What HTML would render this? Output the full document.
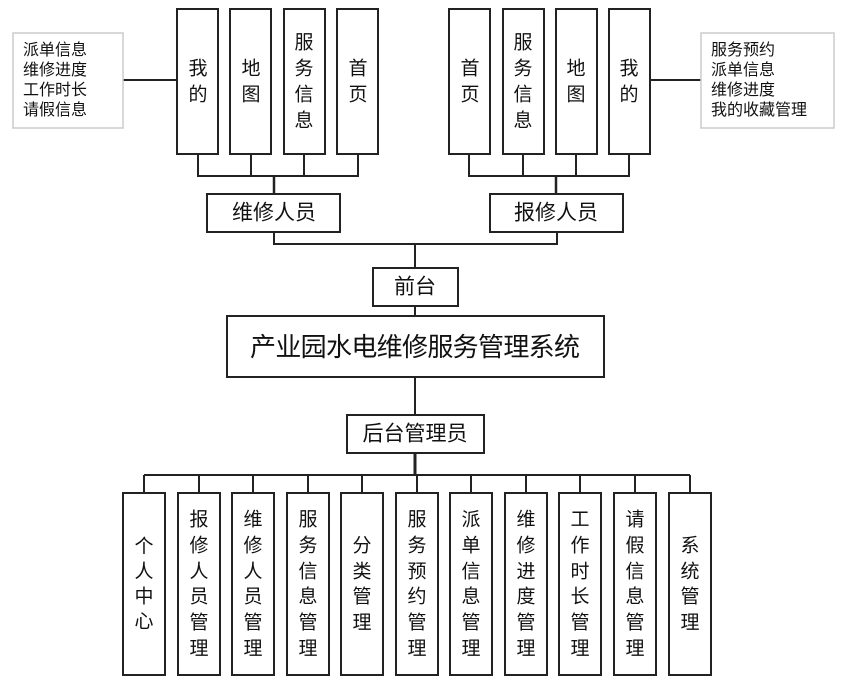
<!DOCTYPE html>
<html><head><meta charset="utf-8"><style>
html,body{margin:0;padding:0;background:#fff}
svg{display:block}
text{font-family:"Liberation Sans","Noto Sans CJK SC",sans-serif;fill:#111}
</style></head><body>
<svg width="866" height="686" xmlns="http://www.w3.org/2000/svg">
<g fill="none" stroke="#222" stroke-width="2">
<!-- left top group -->
<rect x="177" y="9" width="41" height="145" fill="#fff"/>
<rect x="230" y="9" width="41" height="145" fill="#fff"/>
<rect x="284" y="9" width="41" height="145" fill="#fff"/>
<rect x="337" y="9" width="41" height="145" fill="#fff"/>
<polyline points="198,154 198,176 358,176 358,154"/>
<line x1="251" y1="154" x2="251" y2="176"/>
<line x1="304" y1="154" x2="304" y2="176"/>
<line x1="274" y1="176" x2="274" y2="194" stroke-width="2.5"/>
<rect x="207" y="194" width="133" height="38" fill="#fff"/>
<line x1="123" y1="80" x2="177" y2="80"/>
<!-- right top group -->
<rect x="449" y="9" width="41" height="145" fill="#fff"/>
<rect x="503" y="9" width="41" height="145" fill="#fff"/>
<rect x="556" y="9" width="41" height="145" fill="#fff"/>
<rect x="609" y="9" width="41" height="145" fill="#fff"/>
<polyline points="469,154 469,176 629,176 629,154"/>
<line x1="523" y1="154" x2="523" y2="176"/>
<line x1="576" y1="154" x2="576" y2="176"/>
<line x1="556" y1="176" x2="556" y2="194" stroke-width="2.5"/>
<rect x="490" y="194" width="133" height="38" fill="#fff"/>
<line x1="650" y1="80" x2="701" y2="80"/>
<!-- middle -->
<polyline points="274,232 274,244 557,244 557,232"/>
<line x1="415" y1="244" x2="415" y2="268"/>
<rect x="373" y="268" width="85" height="38" fill="#fff"/>
<line x1="415" y1="306" x2="415" y2="316"/>
<rect x="227" y="316" width="377" height="61" fill="#fff"/>
<line x1="415" y1="377" x2="415" y2="415"/>
<rect x="347" y="415" width="137" height="38" fill="#fff"/>
<line x1="415" y1="453" x2="415" y2="475" stroke-width="3"/>
<line x1="144" y1="475" x2="690" y2="475"/>
</g>
<!-- note boxes -->
<rect x="13" y="33" width="110" height="95" fill="#fff" stroke="#ccc" stroke-width="1.5"/>
<rect x="701" y="33" width="133" height="95" fill="#fff" stroke="#ccc" stroke-width="1.5"/>
<g font-size="16">
<text x="23" y="55">派单信息</text>
<text x="23" y="75">维修进度</text>
<text x="23" y="95">工作时长</text>
<text x="23" y="115">请假信息</text>
<text x="711" y="55">服务预约</text>
<text x="711" y="75">派单信息</text>
<text x="711" y="95">维修进度</text>
<text x="711" y="115">我的收藏管理</text>
</g>
<g font-size="19" text-anchor="middle" dominant-baseline="central">
<text x="198" y="69">我</text><text x="198" y="95">的</text>
<text x="251" y="69">地</text><text x="251" y="95">图</text>
<text x="304" y="43">服</text><text x="304" y="69">务</text><text x="304" y="95">信</text><text x="304" y="121">息</text>
<text x="358" y="69">首</text><text x="358" y="95">页</text>
<text x="470" y="69">首</text><text x="470" y="95">页</text>
<text x="523" y="43">服</text><text x="523" y="69">务</text><text x="523" y="95">信</text><text x="523" y="121">息</text>
<text x="576" y="69">地</text><text x="576" y="95">图</text>
<text x="629" y="69">我</text><text x="629" y="95">的</text>
</g>
<g font-size="21" text-anchor="middle" dominant-baseline="central">
<text x="274" y="213">维修人员</text>
<text x="556" y="213">报修人员</text>
<text x="415" y="287">前台</text>
<text x="415" y="434">后台管理员</text>
</g>
<text x="415" y="347" font-size="26" text-anchor="middle" dominant-baseline="central" textLength="330" lengthAdjust="spacing">产业园水电维修服务管理系统</text>
<!-- bottom boxes -->
<g fill="#fff" stroke="#222" stroke-width="2">
<rect x="123" y="493" width="42" height="182"/><rect x="178" y="493" width="42" height="182"/>
<rect x="232" y="493" width="42" height="182"/><rect x="287" y="493" width="42" height="182"/>
<rect x="341" y="493" width="42" height="182"/><rect x="396" y="493" width="42" height="182"/>
<rect x="450" y="493" width="42" height="182"/><rect x="505" y="493" width="42" height="182"/>
<rect x="559" y="493" width="42" height="182"/><rect x="614" y="493" width="42" height="182"/>
<rect x="669" y="493" width="42" height="182"/>
</g>
<g stroke="#222" stroke-width="2">
<line x1="144" y1="475" x2="144" y2="493"/><line x1="199" y1="475" x2="199" y2="493"/>
<line x1="253" y1="475" x2="253" y2="493"/><line x1="308" y1="475" x2="308" y2="493"/>
<line x1="362" y1="475" x2="362" y2="493"/><line x1="417" y1="475" x2="417" y2="493"/>
<line x1="471" y1="475" x2="471" y2="493"/><line x1="526" y1="475" x2="526" y2="493"/>
<line x1="580" y1="475" x2="580" y2="493"/><line x1="635" y1="475" x2="635" y2="493"/>
<line x1="690" y1="475" x2="690" y2="493"/>
</g>
<g font-size="19" text-anchor="middle" dominant-baseline="central">
<text x="144" y="547">个</text><text x="144" y="572">人</text><text x="144" y="597">中</text><text x="144" y="622">心</text>
<text x="199" y="520">报</text><text x="199" y="546">修</text><text x="199" y="572">人</text><text x="199" y="597">员</text><text x="199" y="623">管</text><text x="199" y="649">理</text>
<text x="253" y="520">维</text><text x="253" y="546">修</text><text x="253" y="572">人</text><text x="253" y="597">员</text><text x="253" y="623">管</text><text x="253" y="649">理</text>
<text x="308" y="520">服</text><text x="308" y="546">务</text><text x="308" y="572">信</text><text x="308" y="597">息</text><text x="308" y="623">管</text><text x="308" y="649">理</text>
<text x="362" y="546">分</text><text x="362" y="572">类</text><text x="362" y="597">管</text><text x="362" y="623">理</text>
<text x="417" y="520">服</text><text x="417" y="546">务</text><text x="417" y="572">预</text><text x="417" y="597">约</text><text x="417" y="623">管</text><text x="417" y="649">理</text>
<text x="471" y="520">派</text><text x="471" y="546">单</text><text x="471" y="572">信</text><text x="471" y="597">息</text><text x="471" y="623">管</text><text x="471" y="649">理</text>
<text x="526" y="520">维</text><text x="526" y="546">修</text><text x="526" y="572">进</text><text x="526" y="597">度</text><text x="526" y="623">管</text><text x="526" y="649">理</text>
<text x="580" y="520">工</text><text x="580" y="546">作</text><text x="580" y="572">时</text><text x="580" y="597">长</text><text x="580" y="623">管</text><text x="580" y="649">理</text>
<text x="635" y="520">请</text><text x="635" y="546">假</text><text x="635" y="572">信</text><text x="635" y="597">息</text><text x="635" y="623">管</text><text x="635" y="649">理</text>
<text x="690" y="546">系</text><text x="690" y="572">统</text><text x="690" y="597">管</text><text x="690" y="623">理</text>
</g>
</svg>
</body></html>
